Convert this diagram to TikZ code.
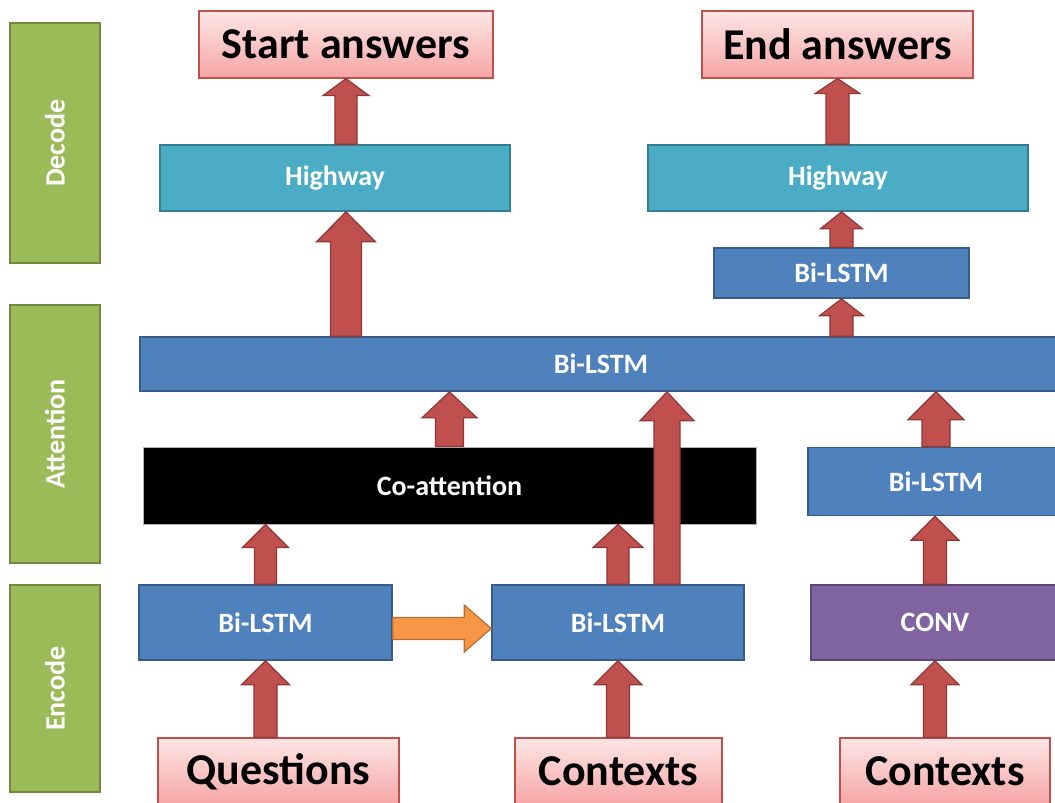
\documentclass[tikz,border=0pt]{standalone}
\usepackage{fontspec}
\setmainfont{Carlito}
\usetikzlibrary{calc}

\definecolor{stagegreen}{HTML}{9BBB59}
\definecolor{stageedge}{HTML}{71893F}
\definecolor{lstmblue}{HTML}{4F81BD}
\definecolor{lstmedge}{HTML}{385D8A}
\definecolor{hwcyan}{HTML}{4BACC6}
\definecolor{hwedge}{HTML}{357D91}
\definecolor{convpurple}{HTML}{8064A2}
\definecolor{convedge}{HTML}{5C4776}
\definecolor{pinktop}{HTML}{FDE6E6}
\definecolor{pinkbot}{HTML}{F5A5A4}
\definecolor{pinkedge}{HTML}{C0504D}
\definecolor{arrowred}{HTML}{C0504D}
\definecolor{arrowedge}{HTML}{8C3836}
\definecolor{arroworange}{HTML}{F79646}
\definecolor{orangeedge}{HTML}{B66D31}

\tikzset{
  box/.style={draw, line width=0.8pt, inner sep=0pt, text=white,
    font=\bfseries\fontsize{14}{16}\selectfont},
  stage/.style={box, fill=stagegreen, draw=stageedge, minimum width=45pt},
  lstm/.style={box, fill=lstmblue, draw=lstmedge},
  highway/.style={box, fill=hwcyan, draw=hwedge},
  conv/.style={box, fill=convpurple, draw=convedge},
  coatt/.style={box, fill=black, draw=gray!60, line width=0.5pt},
  io/.style={draw=pinkedge, line width=0.6pt, inner sep=0pt, text=black,
    top color=pinktop, bottom color=pinkbot, minimum height=33.5pt,
    font=\bfseries\fontsize{22}{24}\selectfont},
  arrsize/.code n args={3}{\def\shaft{#1}\def\wing{#2}\def\head{#3}},
  redarr/.style={fill=arrowred, draw=arrowedge, line width=0.6pt,
    arrsize={5.75pt}{12pt}{12pt},
    to path={let \p1=(\tikztostart), \p2=(\tikztotarget) in
      (\x1-\shaft,\y1) -- (\x1-\shaft,\y2-\head) -- (\x1-\wing,\y2-\head)
      -- (\x1,\y2) -- (\x1+\wing,\y2-\head) -- (\x1+\shaft,\y2-\head)
      -- (\x1+\shaft,\y1) -- cycle}},
  orangearr/.style={fill=arroworange, draw=orangeedge, line width=0.6pt,
    arrsize={5.5pt}{11.75pt}{13.5pt},
    to path={let \p1=(\tikztostart), \p2=(\tikztotarget) in
      (\x1,\y1-\shaft) -- (\x2-\head,\y1-\shaft) -- (\x2-\head,\y1-\wing)
      -- (\x2,\y1) -- (\x2-\head,\y1+\wing) -- (\x2-\head,\y1+\shaft)
      -- (\x1,\y1+\shaft) -- cycle}},
}

\begin{document}
\begin{tikzpicture}[x=0.5pt,y=-0.5pt]
  \clip (0,0) rectangle (1055,803);

  % stages
  \node[stage, minimum height=120pt] (dec) at (55,143) {\rotatebox{90}{Decode}};
  \node[stage, minimum height=129pt] (att) at (55,434) {\rotatebox{90}{Attention}};
  \node[stage, minimum height=103.5pt] (enc) at (55,688.5) {\rotatebox{90}{Encode}};

  % outputs
  \node[io, minimum width=147pt] (sa) at (346,44.5) {Start answers};
  \node[io, minimum width=135.5pt] (ea) at (837.5,44.5) {End answers};

  % decode
  \node[highway, minimum width=175pt, minimum height=33pt] (hwl) at (335,178) {Highway};
  \node[highway, minimum width=190pt, minimum height=33pt] (hwr) at (838,178) {Highway};
  \node[lstm, minimum width=127.5pt, minimum height=25pt] (dbl) at (841.5,273) {Bi-LSTM};

  % attention
  \node[lstm, minimum width=461pt, minimum height=27pt] (bbl) at (601,364) {Bi-LSTM};
  \node[coatt, minimum width=306.5pt, minimum height=38.5pt] (co) at (449.5,485.5) {Co-attention};
  \node[lstm, minimum width=128pt, minimum height=34pt] (abl) at (936,481.5) {Bi-LSTM};

  % encode
  \node[lstm, minimum width=126.5pt, minimum height=37.5pt] (qbl) at (265.5,622.5) {Bi-LSTM};
  \node[lstm, minimum width=126pt, minimum height=37.5pt] (mbl) at (618,622.5) {Bi-LSTM};
  \node[conv, minimum width=124pt, minimum height=37.5pt] (cv) at (935,622.5) {CONV};

  % inputs
  \node[io, minimum width=120.5pt] (qs) at (278.5,771.5) {Questions};
  \node[io, minimum width=103.5pt] (cm) at (618.5,771.5) {Contexts};
  \node[io, minimum width=105pt] (cr) at (945,771.5) {Contexts};

  % arrows
  \draw[redarr] (qbl.south |- qs.north) to (qbl.south);
  \draw[redarr] (mbl.south |- cm.north) to (mbl.south);
  \draw[redarr] (cv.south |- cr.north) to (cv.south);
  \draw[orangearr] ([yshift=-3pt]qbl.east) to ([yshift=-3pt]mbl.west);
  \draw[redarr, arrsize={5.5pt}{11.5pt}{11.5pt}] (qbl.north) to (qbl.north |- co.south);
  \draw[redarr, arrsize={5.5pt}{12.5pt}{11.5pt}] (mbl.north) to (mbl.north |- co.south);
  \draw[redarr, arrsize={6.5pt}{13.5pt}{14.5pt}] ([xshift=24.5pt]mbl.north) to ([xshift=24.5pt]mbl.north |- bbl.south);
  \draw[redarr] (cv.north) to (cv.north |- abl.south);
  \draw[redarr, arrsize={7pt}{13.75pt}{13pt}] (co.north) to (co.north |- bbl.south);
  \draw[redarr, arrsize={7pt}{14pt}{14pt}] (abl.north) to (abl.north |- bbl.south);
  \draw[redarr, arrsize={7.75pt}{14.75pt}{15pt}] (sa.south |- bbl.north) to (sa.south |- hwl.south);
  \draw[redarr, arrsize={5.5pt}{11.5pt}{8.5pt}] (sa.south |- hwl.north) to (sa.south);
  \draw[redarr, arrsize={5.75pt}{11pt}{8.5pt}] (dbl.north |- bbl.north) to (dbl.south);
  \draw[redarr, arrsize={5.75pt}{10.5pt}{8.5pt}] (dbl.north) to (dbl.north |- hwr.south);
  \draw[redarr, arrsize={5.75pt}{11.25pt}{7.5pt}] (ea.south |- hwr.north) to (ea.south);
\end{tikzpicture}
\end{document}
